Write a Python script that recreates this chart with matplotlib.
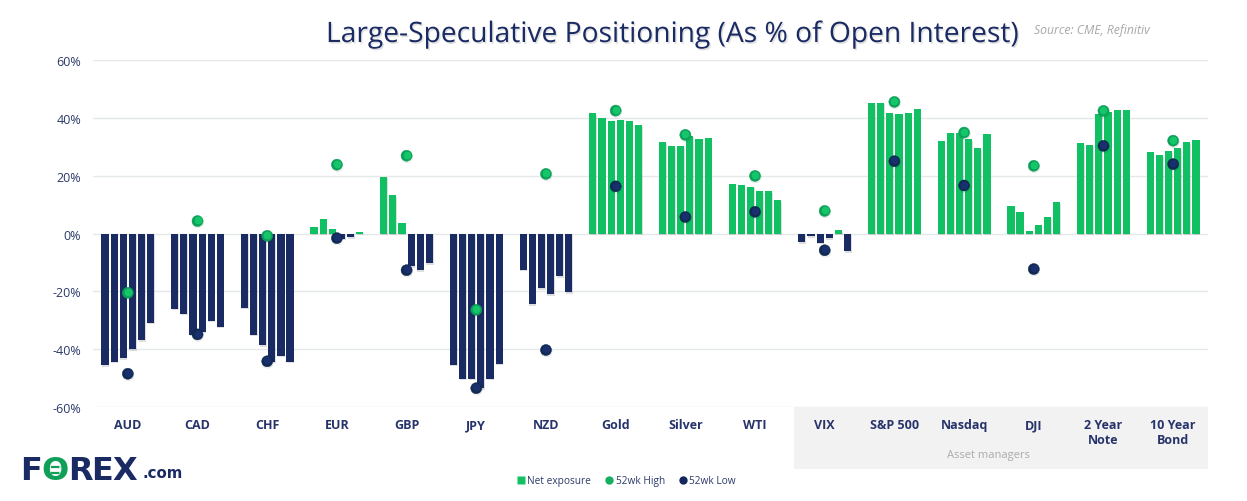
import numpy as np
import matplotlib
matplotlib.use("Agg")
import matplotlib.pyplot as plt
import matplotlib.patheffects as pe
from matplotlib.lines import Line2D
from matplotlib.patches import Rectangle
from matplotlib.transforms import offset_copy

plt.rcParams["font.family"] = ["Open Sans", "DejaVu Sans"]

NAVY = "#1a2a63"
GREEN = "#12c064"

labels = ["AUD", "CAD", "CHF", "EUR", "GBP", "JPY", "NZD", "Gold", "Silver", "WTI",
          "VIX", "S&P 500", "Nasdaq", "DJI", "2 Year\nNote", "10 Year\nBond"]

aud = [-45.6, -44.3, -43.2, -40.1, -37.0, -30.8]
cad = [-26.0, -27.7, -35.0, -33.9, -30.1, -32.2]
chf = [-25.6, -35.0, -38.7, -44.3, -42.2, -44.3]
eur = [2.2, 5.0, 1.5, -1.8, -1.2, 0.4]
gbp = [19.6, 13.3, 3.6, -11.2, -12.6, -10.2]
jpy = [-45.4, -50.2, -50.2, -53.6, -50.2, -45.0]
nzd = [-12.5, -24.4, -18.9, -20.9, -14.7, -20.2]
gold = [41.5, 40.1, 39.0, 39.4, 39.0, 37.6]
silver = [31.7, 30.3, 30.3, 33.8, 32.8, 33.1]
wti = [17.2, 16.8, 16.2, 14.7, 14.7, 11.6]
vix = [-3.1, -1.0, -3.2, -1.7, 1.2, -6.0]
spx = [45.0, 45.3, 41.5, 41.2, 41.5, 42.9]
nasdaq = [32.0, 34.9, 34.9, 32.7, 29.6, 34.4]
dji = [9.6, 7.5, 0.8, 2.9, 5.7, 10.9]
note2y = [31.3, 30.6, 41.2, 41.9, 42.6, 42.6]
bond10y = [28.2, 27.1, 28.5, 29.6, 31.7, 32.3]
series = [aud, cad, chf, eur, gbp, jpy, nzd, gold, silver, wti,
          vix, spx, nasdaq, dji, note2y, bond10y]

high_52wk = [-20.5, 4.3, -0.8, 23.8, 26.9, -26.4, 20.6, 42.5, 34.1, 19.9,
             7.8, 45.5, 34.9, 23.4, 42.4, 32.1]
low_52wk = [-48.5, -34.9, -44.2, -1.6, -12.7, -53.5, -40.3, 16.3, 5.7, 7.5,
            -5.8, 25.0, 16.6, -12.3, 30.3, 24.0]

W, H = 1247, 502


def fx(px):
    return px / W


def fy(py):
    return 1 - py / H


fig = plt.figure(figsize=(W / 100, H / 100), dpi=100, facecolor="white")
ax = fig.add_axes([fx(93), fy(408), fx(1208 - 93), (408 - 61) / H])
ax.patch.set_alpha(0)

# grey band behind the asset manager categories
fig.add_artist(Rectangle((fx(794), fy(470)), fx(1208 - 794), 62 / H,
                         transform=fig.transFigure, facecolor="#f2f2f2",
                         edgecolor="none", zorder=-5))

x = np.arange(len(labels))
step = 0.131
offsets = (np.arange(6) - 2.5) * step
bar_shadow = [pe.SimplePatchShadow(offset=(0.4, -1.2), shadow_rgbFace="k", alpha=0.13), pe.Normal()]
for i, vals in enumerate(series):
    vals = np.array(vals)
    colors = [GREEN if v >= 0 else NAVY for v in vals]
    bars = ax.bar(x[i] + offsets, vals, width=0.103, color=colors, zorder=3)
    for b in bars:
        b.set_path_effects(bar_shadow)

dot_shadow = [pe.SimpleLineShadow(offset=(0.4, -0.9), shadow_color="k", alpha=0.2), pe.Normal()]
ax.plot(x, high_52wk, ls="none", marker="o", ms=8, mfc="#0c9f58", mec="#0c9f58",
        mew=0.3, zorder=5, path_effects=dot_shadow)
ax.plot(x, low_52wk, ls="none", marker="o", ms=8, mfc="#0f2a50", mec="#0f2a50",
        mew=0.3, zorder=5, path_effects=dot_shadow)
# lighter upper part of the dots
glint = offset_copy(ax.transData, fig=fig, x=0, y=0.6, units="points")
ax.plot(x, high_52wk, ls="none", marker="o", ms=5.6, mfc="#14c56a", mec="none", zorder=6, transform=glint)
ax.plot(x, low_52wk, ls="none", marker="o", ms=5.6, mfc="#1a2f6e", mec="none", zorder=6, transform=glint)

ax.set_xlim(-0.5, len(labels) - 0.5)
ax.set_ylim(-60, 60)
ax.set_yticks([-60, -40, -20, 0, 20, 40, 60])
ax.set_yticklabels(["-60%", "-40%", "-20%", "0%", "20%", "40%", "60%"],
                   fontsize=9, color="#2c3a6b")
ax.set_xticks(x)
ax.set_xticklabels(labels, fontsize=9, fontweight="bold", color="#27336a", linespacing=1.2)
ax.tick_params(axis="both", length=0)
ax.tick_params(axis="x", pad=8)
ax.tick_params(axis="y", pad=8.5)
ax.grid(axis="y", color="#e4e8e8", lw=1, zorder=0)
ax.set_axisbelow(True)
for s in ax.spines.values():
    s.set_visible(False)

title = fig.text(fx(326), fy(36), "Large-Speculative Positioning (As % of Open Interest)",
                 fontsize=20.3, color=NAVY, ha="left", va="center")
title.set_path_effects([pe.withSimplePatchShadow(offset=(1, -1.2), shadow_rgbFace="k", alpha=0.12)])
fig.text(fx(1034), fy(31), "Source: CME, Refinitiv", fontsize=8.8, style="italic",
         color="#a8a8a8", ha="left", va="center")
fig.text(fx(988), fy(456), "Asset managers", fontsize=8, color="#ababab", ha="center", va="center")

# logo, letter by letter because the O is green
for letter, cx, col in [("F", 31, NAVY), ("O", 55, "#0f9f58"), ("R", 80, NAVY), ("E", 102, NAVY), ("X", 125, NAVY)]:
    fig.text(fx(cx), fy(471), letter, fontsize=23, fontweight="bold", family="DejaVu Sans",
             color=col, ha="center", va="center")
for y_px in (468, 474):
    fig.add_artist(Line2D([fx(52), fx(60)], [fy(y_px), fy(y_px)], color="#0f9f58", lw=1.6,
                          transform=fig.transFigure))
    fig.add_artist(Line2D([fx(60), fx(69)], [fy(y_px), fy(y_px)], color="white", lw=1.1,
                          transform=fig.transFigure))
fig.text(fx(142), fy(473), ".com", fontsize=10.8, fontweight="bold", family="DejaVu Sans",
         color=NAVY, ha="left", va="center")

handles = [
    Line2D([], [], ls="none", marker="s", ms=6, mfc=GREEN, mec="none", label="Net exposure"),
    Line2D([], [], ls="none", marker="o", ms=6, mfc="#12b060", mec="none", label="52wk High"),
    Line2D([], [], ls="none", marker="o", ms=6, mfc="#14275c", mec="none", label="52wk Low"),
]
fig.legend(handles=handles, ncol=3, loc="center", bbox_to_anchor=(fx(625), fy(482)),
           frameon=False, fontsize=7.3, handlelength=1.3, handletextpad=0.0, columnspacing=1.1,
           labelcolor="#2c3a6b")

fig.savefig("out.png", dpi=100)
